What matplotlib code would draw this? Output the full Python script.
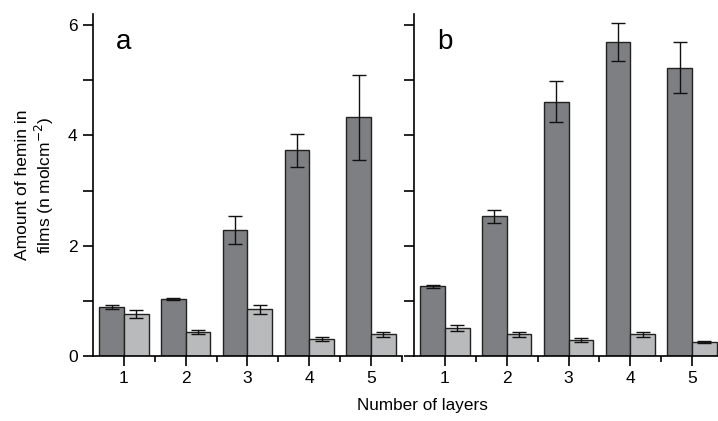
import numpy as np
import matplotlib.pyplot as plt
from matplotlib.ticker import MultipleLocator, FixedLocator

plt.rcParams['font.family'] = ['Liberation Sans', 'DejaVu Sans']

layers = [1, 2, 3, 4, 5]

# panel a
a_dark = [0.89, 1.03, 2.28, 3.73, 4.33]
a_dark_err = [0.03, 0.02, 0.25, 0.30, 0.77]
a_light = [0.76, 0.44, 0.85, 0.31, 0.39]
a_light_err = [0.08, 0.04, 0.08, 0.03, 0.04]

# panel b
b_dark = [1.26, 2.53, 4.61, 5.69, 5.23]
b_dark_err = [0.02, 0.11, 0.37, 0.34, 0.46]
b_light = [0.51, 0.39, 0.29, 0.39, 0.26]
b_light_err = [0.05, 0.04, 0.03, 0.04, 0.02]

dark_col = '#7e7f83'
light_col = '#b9babc'
w = 0.4

fig = plt.figure(figsize=(7.18, 4.21), dpi=100)
ax_a = fig.add_axes([0.1295, 0.1544, 0.4304, 0.8123])
ax_b = fig.add_axes([0.5766, 0.1544, 0.4304, 0.8123])

x = np.array(layers)
for ax, dark, derr, light, lerr, tag in [
        (ax_a, a_dark, a_dark_err, a_light, a_light_err, 'a'),
        (ax_b, b_dark, b_dark_err, b_light, b_light_err, 'b')]:
    ax.bar(x - w/2, dark, w, color=dark_col, edgecolor='#222222', linewidth=1.0, zorder=2)
    ax.bar(x + w/2, light, w, color=light_col, edgecolor='#222222', linewidth=1.0, zorder=2)
    ax.errorbar(x - w/2, dark, yerr=derr, fmt='none', ecolor='#111111',
                elinewidth=1.0, capsize=5, capthick=1.0, zorder=3)
    ax.errorbar(x + w/2, light, yerr=lerr, fmt='none', ecolor='#111111',
                elinewidth=1.0, capsize=5, capthick=1.0, zorder=3)
    ax.set_xlim(0.5, 5.5)
    ax.set_ylim(0, 6.2)
    ax.spines['top'].set_visible(False)
    ax.spines['right'].set_visible(False)
    for s in ['left', 'bottom']:
        ax.spines[s].set_linewidth(1.2)
    ax.set_xticks(layers)
    ax.xaxis.set_minor_locator(FixedLocator([1.5, 2.5, 3.5, 4.5, 5.5]))
    ax.yaxis.set_major_locator(MultipleLocator(2))
    ax.yaxis.set_minor_locator(MultipleLocator(1))
    ax.tick_params(axis='both', which='major', direction='out', length=7, width=1.2,
                   labelsize=12.5, pad=4)
    ax.tick_params(axis='y', which='minor', direction='out', length=7, width=1.2)
    ax.tick_params(axis='x', which='minor', direction='out', length=4, width=1.2)
    ax.text(0.075, 0.955, tag, transform=ax.transAxes, fontsize=20, va='top', ha='left')

ax_b.tick_params(axis='y', which='both', labelleft=False)

ax_a.set_ylabel('Amount of hemin in\nfilms (n molcm$^{-2}$)', fontsize=12.5,
                linespacing=1.15, labelpad=9)
fig.text(0.588, 0.02, 'Number of layers', fontsize=12.3, ha='center', va='bottom')

fig.savefig('out.png', dpi=100)
